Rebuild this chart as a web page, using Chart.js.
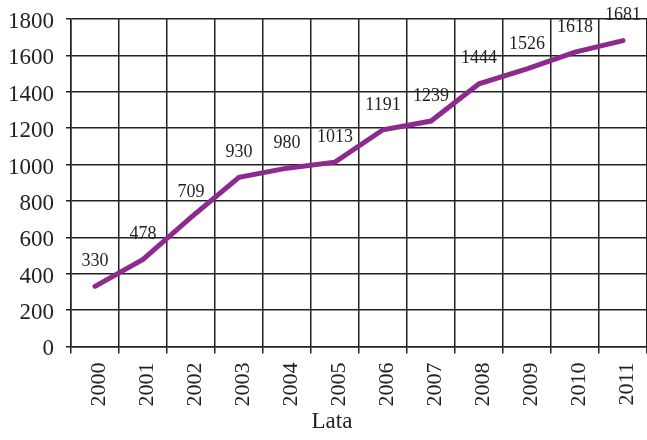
<!DOCTYPE html>
<html>
<head>
<meta charset="utf-8">
<script src="https://cdn.jsdelivr.net/npm/chart.js@4"></script>
<style>
  html, body { margin: 0; padding: 0; background: #ffffff; }
  #wrap { width: 647px; height: 440px; }
</style>
</head>
<body>
<div id="wrap"><canvas id="c" width="647" height="440"></canvas></div>
<script>
const categories = ['2000','2001','2002','2003','2004','2005','2006','2007','2008','2009','2010','2011'];
const values = [330, 478, 709, 930, 980, 1013, 1191, 1239, 1444, 1526, 1618, 1681];
const yTicks = [0, 200, 400, 600, 800, 1000, 1200, 1400, 1600, 1800];
const xTitle = 'Lata';

const FONT = "'Liberation Serif', 'Times New Roman', serif";
const TEXT = '#231f20';
const GRID = '#222222';

const valueLabels = {
  id: 'valueLabels',
  afterLayout(chart) {
    // shift the bottom title's box so it centres a little left of the plot centre
    if (chart.titleBlock) { chart.titleBlock.left = 17; }
  },
  afterDatasetsDraw(chart) {
    const ctx = chart.ctx;
    const meta = chart.getDatasetMeta(0);
    ctx.save();
    ctx.font = '18px ' + FONT;
    ctx.fillStyle = TEXT;
    ctx.textAlign = 'center';
    ctx.textBaseline = 'middle';
    meta.data.forEach((pt, i) => {
      ctx.fillText(String(values[i]), pt.x, pt.y - 25);
    });
    ctx.restore();
  }
};

new Chart(document.getElementById('c'), {
  type: 'line',
  data: {
    labels: categories,
    datasets: [{
      data: values,
      borderColor: '#8e2a8e',
      backgroundColor: '#8e2a8e',
      borderWidth: 5,
      borderCapStyle: 'round',
      tension: 0,
      pointRadius: 0,
      pointHoverRadius: 0,
      fill: false
    }]
  },
  options: {
    responsive: false,
    animation: false,
    events: [],
    layout: { padding: { top: 19, left: 0, right: 0, bottom: 0 } },
    plugins: {
      legend: { display: false },
      tooltip: { enabled: false },
      title: {
        display: true,
        text: xTitle,
        position: 'bottom',
        fullSize: true,
        color: TEXT,
        font: { family: FONT, size: 23, weight: 'normal' },
        padding: { top: 0, bottom: 4 }
      }
    },
    scales: {
      x: {
        type: 'category',
        offset: true,
        afterFit(scale) { scale.paddingLeft = 0; scale.paddingRight = 0; scale.height = 62; },
        grid: {
          offset: true,
          color: GRID,
          lineWidth: 1.5,
          drawTicks: true,
          tickLength: 7
        },
        border: { color: GRID, width: 1.5 },
        ticks: {
          color: TEXT,
          font: { family: FONT, size: 22 },
          minRotation: 90,
          maxRotation: 90,
          padding: 9,
          labelOffset: 4,
          autoSkip: false
        }
      },
      y: {
        min: 0,
        max: 1800,
        afterFit(scale) { scale.width = 71; scale.paddingTop = 0; scale.paddingBottom = 0; },
        afterBuildTicks(scale) { scale.ticks = yTicks.map(v => ({ value: v })); },
        grid: {
          color: GRID,
          lineWidth: 1.5,
          drawTicks: true,
          tickLength: 5
        },
        border: { color: GRID, width: 1.5 },
        ticks: {
          color: TEXT,
          font: { family: FONT, size: 23 },
          padding: 12,
          labelOffset: 3,
          callback: (v) => String(v)
        }
      }
    }
  },
  plugins: [valueLabels]
});
</script>
</body>
</html>
